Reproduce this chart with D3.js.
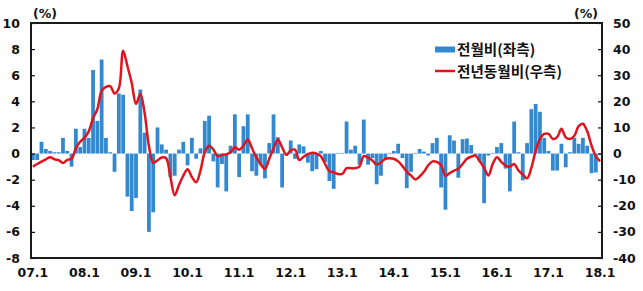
<!DOCTYPE html>
<html>
<head>
<meta charset="utf-8">
<script src="https://cdn.jsdelivr.net/npm/d3@7"></script>
<style>
  body { margin: 0; background: #fff; }
  svg { display: block; }
  .tick text { font-family: "DejaVu Sans", sans-serif; font-weight: bold; font-size: 12.5px; fill: #111; }
</style>
</head>
<body>
<svg id="chart" width="643" height="291"></svg>
<script>
// month-on-month change (%), bars, left axis: 2007.1 .. 2018.1
const momValues = [
  -0.5, -0.5, 0.9, 0.35, 0.2, 0.1, 0.1, 1.2, 0.2, -1.0, 1.9, 0.5,
  1.9, 1.2, 6.4, 2.5, 7.2, 1.2, 0.1, -1.4, 4.6, 4.5, -3.3, -4.4,
  -3.4, 4.9, 1.6, -6.0, -4.5, 2.0, 0.7, 0.3, -1.8, -1.7, 0.3, 0.9,
  -0.9, 1.2, -0.4, 0.4, 2.5, 2.9, -0.6, -2.6, -0.8, -2.9, 0.6, 3.0,
  -1.8, 2.1, 3.0, -1.35, -1.7, -0.9, -1.9, 0.8, 3.0, 1.25, -2.6, 0.05,
  1.0, -0.4, 0.7, 0.55, -0.7, -1.35, -1.2, 0.2, -0.65, -2.1, -2.7, 0.05,
  0.05, 2.45, 0.3, 0.6, -0.85, 2.6, -0.85, -0.35, -2.35, -1.7, -0.35, 0.05,
  0.2, 0.75, -0.35, -2.65, -1.4, 0.05, 0.35, 0.15, -0.15, 0.8, 1.2, -2.6,
  -4.3, 1.4, 1.0, -1.85, 1.1, 1.15, 0.65, -0.1, -0.65, -3.8, -0.15, 0.05,
  0.5, 0.8, -1.15, -2.9, 2.45, 0.1, -2.05, 0.8, 3.4, 3.8, 3.2, 1.2,
  0.2, -1.3, -1.3, 0.75, -1.05, 0.1, 1.2, 0.75, 1.2, 0.6, -1.5, -1.45,
  -0.1
];

// year-on-year change (%), line, right axis
const yoyValues = [
  -5.0, -4.0, -3.1, -2.2, -1.4, -2.2, -2.5, -3.6, -2.4, -2.0, 2.0, 4.5,
  6.0, 8.5, 13.5, 17.0, 24.0, 25.5, 25.8, 23.0, 25.0, 39.4, 33.5, 27.0,
  19.0, 22.9, 15.5, 3.0, -3.5, -2.6, -1.5, -1.8, -9.0, -16.0, -12.0, -8.5,
  -6.0, -9.0, -11.0, -6.5, 0.5, 3.0, 1.5, -1.0, -0.5, -0.3, 0.5, 2.4,
  1.5, 3.0, 5.4, 2.0, -1.5, -4.0, -5.9, -2.0, 2.0, 5.4, 2.4, -0.5,
  1.2, 1.5, -2.5, -1.2, -0.2, 0.3, 0.0, -1.0, -4.0, -6.8, -7.2, -7.8,
  -7.8, -5.6, -5.6, -5.6, -5.0, -1.0, -1.6, -2.7, -4.2, -3.4, -2.0, -1.8,
  -2.0, -3.0, -4.8, -6.9, -8.4, -9.9, -8.8, -7.0, -4.5, -3.0, -3.2, -4.5,
  -8.5, -7.5, -6.5, -5.8, -4.0, -2.0, -1.2, -0.8, -3.0, -5.5, -8.4, -4.0,
  -1.4, -3.2, -4.6, -5.0, -4.0, -6.5, -8.0, -9.5, -5.5, 1.0, 5.5, 7.5,
  7.5, 5.6, 6.3, 9.5, 6.2, 5.6, 6.8, 10.5, 11.4, 8.5, 3.1, -1.0,
  -3.0
];

const xLabels = ["07.1", "08.1", "09.1", "10.1", "11.1", "12.1", "13.1", "14.1", "15.1", "16.1", "17.1", "18.1"];
const leftTicks = [-8, -6, -4, -2, 0, 2, 4, 6, 8, 10];
const rightTicks = [-40, -30, -20, -10, 0, 10, 20, 30, 40, 50];
const legendNames = ["전월비(좌측)", "전년동월비(우측)"];

const svg = d3.select("#chart");
const plot = { left: 31, right: 602, top: 23, bottom: 258 };
const barColor = "#3389d0";
const lineColor = "#e0141e";

// scales
const x = d3.scaleBand()
  .domain(d3.range(momValues.length))
  .range([plot.left, plot.right])
  .paddingInner(0.12);
const yLeft = d3.scaleLinear().domain([-8, 10]).range([plot.bottom, plot.top]);
const yRight = d3.scaleLinear().domain([-40, 50]).range([plot.bottom, plot.top]);
const cx = i => x(i) + x.bandwidth() / 2;

// bars
svg.append("g")
  .selectAll("rect")
  .data(momValues)
  .join("rect")
  .attr("x", (d, i) => x(i))
  .attr("width", x.bandwidth())
  .attr("y", d => yLeft(Math.max(0, d)))
  .attr("height", d => Math.abs(yLeft(d) - yLeft(0)))
  .attr("fill", barColor);

// line
const line = d3.line()
  .x((d, i) => cx(i))
  .y(d => yRight(d))
  .curve(d3.curveCatmullRom.alpha(0.5));

svg.append("path")
  .datum(yoyValues)
  .attr("d", line)
  .attr("fill", "none")
  .attr("stroke", lineColor)
  .attr("stroke-width", 2.5)
  .attr("stroke-linejoin", "round");

// axes
const leftAxis = svg.append("g")
  .attr("transform", `translate(${plot.left},0)`)
  .call(d3.axisLeft(yLeft).tickValues(leftTicks).tickFormat(d => String(d))
    .tickSizeInner(-4).tickSizeOuter(0).tickPadding(11));

const rightAxis = svg.append("g")
  .attr("transform", `translate(${plot.right},0)`)
  .call(d3.axisRight(yRight).tickValues(rightTicks).tickFormat(d => String(d))
    .tickSizeInner(-4).tickSizeOuter(0).tickPadding(11));

const bottomAxis = svg.append("g")
  .attr("transform", `translate(0,${plot.bottom})`)
  .call(d3.axisBottom(x).tickValues(d3.range(0, 133, 12)).tickFormat(i => xLabels[i / 12])
    .tickSize(0).tickPadding(10));

[leftAxis, rightAxis, bottomAxis].forEach(g => {
  g.select(".domain").remove();
  g.selectAll(".tick line").attr("stroke", "#111").attr("stroke-width", 1.2);
});

// frame
svg.append("rect")
  .attr("x", plot.left)
  .attr("y", plot.top)
  .attr("width", plot.right - plot.left)
  .attr("height", plot.bottom - plot.top)
  .attr("fill", "none")
  .attr("stroke", "#1a1a1a")
  .attr("stroke-width", 2);

// unit labels
svg.selectAll("text.unit")
  .data([45, 586])
  .join("text")
  .attr("class", "unit")
  .attr("x", d => d)
  .attr("y", 18)
  .attr("text-anchor", "middle")
  .attr("font-family", "DejaVu Sans, sans-serif")
  .attr("font-weight", "bold")
  .attr("font-size", 12.5)
  .attr("fill", "#111")
  .text("(%)");

// legend
const legend = svg.append("g").attr("transform", "translate(435,0)");
legend.append("rect")
  .attr("x", 0).attr("y", 46.5)
  .attr("width", 20).attr("height", 6)
  .attr("fill", barColor);
legend.append("line")
  .attr("x1", 0).attr("x2", 20)
  .attr("y1", 71).attr("y2", 71)
  .attr("stroke", lineColor)
  .attr("stroke-width", 2.5);
legend.selectAll("text")
  .data(legendNames)
  .join("text")
  .attr("x", 22)
  .attr("y", (d, i) => 54.5 + i * 22.5)
  .attr("font-family", "Noto Sans CJK KR, sans-serif")
  .attr("font-weight", "bold")
  .attr("font-size", 14.6)
  .attr("fill", "#111")
  .text(d => d);
</script>
</body>
</html>
